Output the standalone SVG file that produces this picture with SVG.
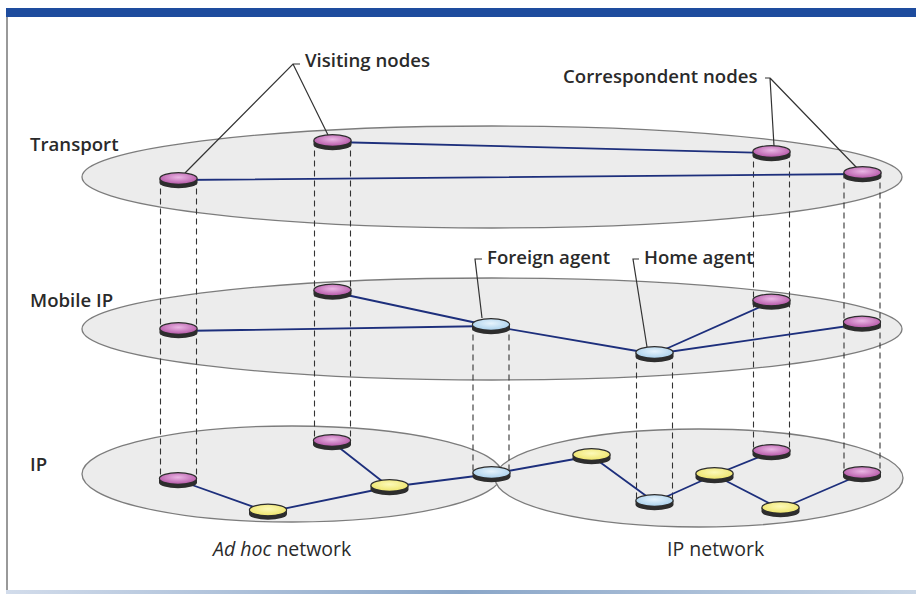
<svg xmlns="http://www.w3.org/2000/svg" width="916" height="594" viewBox="0 0 916 594">
<style>
.layer{fill:#ececec;stroke:#7c7c7c;stroke-width:1.3}
.link{stroke:#1d2f7c;stroke-width:1.8;fill:none;stroke-linecap:round}
.dash{stroke:#333;stroke-width:1.1;stroke-dasharray:6 4;fill:none}
.call{stroke:#333;stroke-width:1.2;fill:none}
.lbl{font-family:"Open Sans","Liberation Sans",sans-serif;font-weight:600;font-size:18.6px;fill:#2a2a2a}
.cap{font-family:"Open Sans","Liberation Sans",sans-serif;font-weight:400;font-size:19.5px;fill:#2a2a2a}
.rim{fill:#2d2d2d}
</style>
<defs>
<radialGradient id="gP" cx="0.5" cy="0.4" r="0.6"><stop offset="0" stop-color="#eab6e4"/><stop offset="1" stop-color="#b455a6"/></radialGradient>
<radialGradient id="gY" cx="0.5" cy="0.4" r="0.6"><stop offset="0" stop-color="#fcf9b8"/><stop offset="1" stop-color="#eee46a"/></radialGradient>
<radialGradient id="gB" cx="0.5" cy="0.4" r="0.6"><stop offset="0" stop-color="#e6f3fc"/><stop offset="1" stop-color="#a9d0ec"/></radialGradient>
<linearGradient id="gBot" x1="0" x2="1" y1="0" y2="0"><stop offset="0" stop-color="#d2dceb"/><stop offset="0.5" stop-color="#8aa6c8"/><stop offset="1" stop-color="#c9d6e6"/></linearGradient>
<g id="diskP"><path class="rim" d="M-19,0 V4 A19,5.8 0 0 0 19,4 V0 Z"/><ellipse rx="18.6" ry="5.8" fill="url(#gP)" stroke="#2d2d2d" stroke-width="1.2"/></g>
<g id="diskY"><path class="rim" d="M-19,0 V4 A19,5.8 0 0 0 19,4 V0 Z"/><ellipse rx="18.6" ry="5.8" fill="url(#gY)" stroke="#2d2d2d" stroke-width="1.2"/></g>
<g id="diskB"><path class="rim" d="M-19,0 V4 A19,5.8 0 0 0 19,4 V0 Z"/><ellipse rx="18.6" ry="5.8" fill="url(#gB)" stroke="#2d2d2d" stroke-width="1.2"/></g>
</defs>
<rect width="916" height="594" fill="#ffffff"/>
<rect x="6" y="8" width="910" height="9" fill="#1e4c9e"/>
<line x1="7" y1="17" x2="7" y2="591" stroke="#555" stroke-width="1.2"/>
<rect x="6" y="590" width="910" height="4" fill="url(#gBot)"/>

<g id="layers">
<ellipse class="layer" cx="492" cy="177" rx="410" ry="51"/>
<ellipse class="layer" cx="492" cy="329" rx="410" ry="51"/>
<ellipse class="layer" cx="292" cy="474" rx="210" ry="48"/>
<ellipse class="layer" cx="699" cy="478" rx="204" ry="49"/>
</g>

<g id="connectors">
<g id="verticals">
<path class="dash" d="M160.5,178.5 V478.5 M196.5,178.5 V478.5"/>
<path class="dash" d="M314.5,140.5 V440.5 M350.5,140.5 V440.5"/>
<path class="dash" d="M473,324.5 V472.5 M509,324.5 V472.5"/>
<path class="dash" d="M636.5,352.5 V500.5 M672.5,352.5 V500.5"/>
<path class="dash" d="M753.5,151.5 V450.5 M789.5,151.5 V450.5"/>
<path class="dash" d="M844,172.5 V472.5 M880,172.5 V472.5"/>
</g>
<g id="links">
<line class="link" x1="332.5" y1="142" x2="771.5" y2="153"/>
<line class="link" x1="178.5" y1="180" x2="862.5" y2="174"/>
<line class="link" x1="178.5" y1="331" x2="491" y2="326"/>
<line class="link" x1="332.5" y1="292" x2="491" y2="326"/>
<line class="link" x1="491" y1="326" x2="654.5" y2="354"/>
<line class="link" x1="654.5" y1="354" x2="771.5" y2="302"/>
<line class="link" x1="654.5" y1="354" x2="862" y2="324"/>
<line class="link" x1="178" y1="480" x2="268" y2="512"/>
<line class="link" x1="268" y1="512" x2="389.5" y2="487"/>
<line class="link" x1="332" y1="442" x2="389.5" y2="487"/>
<line class="link" x1="389.5" y1="487" x2="491.5" y2="474"/>
<line class="link" x1="491.5" y1="474" x2="591.5" y2="456"/>
<line class="link" x1="591.5" y1="456" x2="654.5" y2="502"/>
<line class="link" x1="654.5" y1="502" x2="714.5" y2="475"/>
<line class="link" x1="714.5" y1="475" x2="771.5" y2="452"/>
<line class="link" x1="714.5" y1="475" x2="780.5" y2="509"/>
<line class="link" x1="780.5" y1="509" x2="862" y2="474"/>
</g>
<g id="callouts">
<path class="call" d="M300,64 H293 L185,173 M293,64 L328,135"/>
<path class="call" d="M765,78 H770 L774,146 M770,78 L857,168"/>
<path class="call" d="M482,259 H475 L482,318"/>
<path class="call" d="M639,259 H633 L647,347"/>
</g>
</g>

<g id="T1"><use href="#diskP" x="178.5" y="178.5"/></g>
<g id="T2"><use href="#diskP" x="332.5" y="140.5"/></g>
<g id="T3"><use href="#diskP" x="771.5" y="151.5"/></g>
<g id="T4"><use href="#diskP" x="862.5" y="172.5"/></g>
<g id="M1"><use href="#diskP" x="178.5" y="328.5"/></g>
<g id="M2"><use href="#diskP" x="332.5" y="290"/></g>
<g id="FA"><use href="#diskB" x="491" y="324.5"/></g>
<g id="HA"><use href="#diskB" x="654.5" y="352.5"/></g>
<g id="M5"><use href="#diskP" x="771.5" y="300"/></g>
<g id="M6"><use href="#diskP" x="862" y="322"/></g>
<g id="I1"><use href="#diskP" x="178" y="478.5"/></g>
<g id="I2"><use href="#diskP" x="332" y="440.5"/></g>
<g id="Y1"><use href="#diskY" x="268" y="510"/></g>
<g id="Y2"><use href="#diskY" x="389.5" y="485.5"/></g>
<g id="FAI"><use href="#diskB" x="491.5" y="472.5"/></g>
<g id="Y3"><use href="#diskY" x="591.5" y="454.5"/></g>
<g id="HAI"><use href="#diskB" x="654.5" y="500.5"/></g>
<g id="Y4"><use href="#diskY" x="714.5" y="473.5"/></g>
<g id="I5"><use href="#diskP" x="771.5" y="450.5"/></g>
<g id="Y5"><use href="#diskY" x="780.5" y="507.5"/></g>
<g id="I6"><use href="#diskP" x="862" y="472.5"/></g>

<g id="labels">
<text class="lbl" x="305" y="67">Visiting nodes</text>
<text class="lbl" x="563" y="83">Correspondent nodes</text>
<text class="lbl" x="487" y="264">Foreign agent</text>
<text class="lbl" x="644" y="264">Home agent</text>
<text class="lbl" x="30" y="151">Transport</text>
<text class="lbl" x="30" y="307">Mobile IP</text>
<text class="lbl" x="30" y="471">IP</text>
<text class="cap" x="213" y="556"><tspan font-style="italic">Ad hoc</tspan> network</text>
<text class="cap" x="667" y="556">IP network</text>
</g>
</svg>
